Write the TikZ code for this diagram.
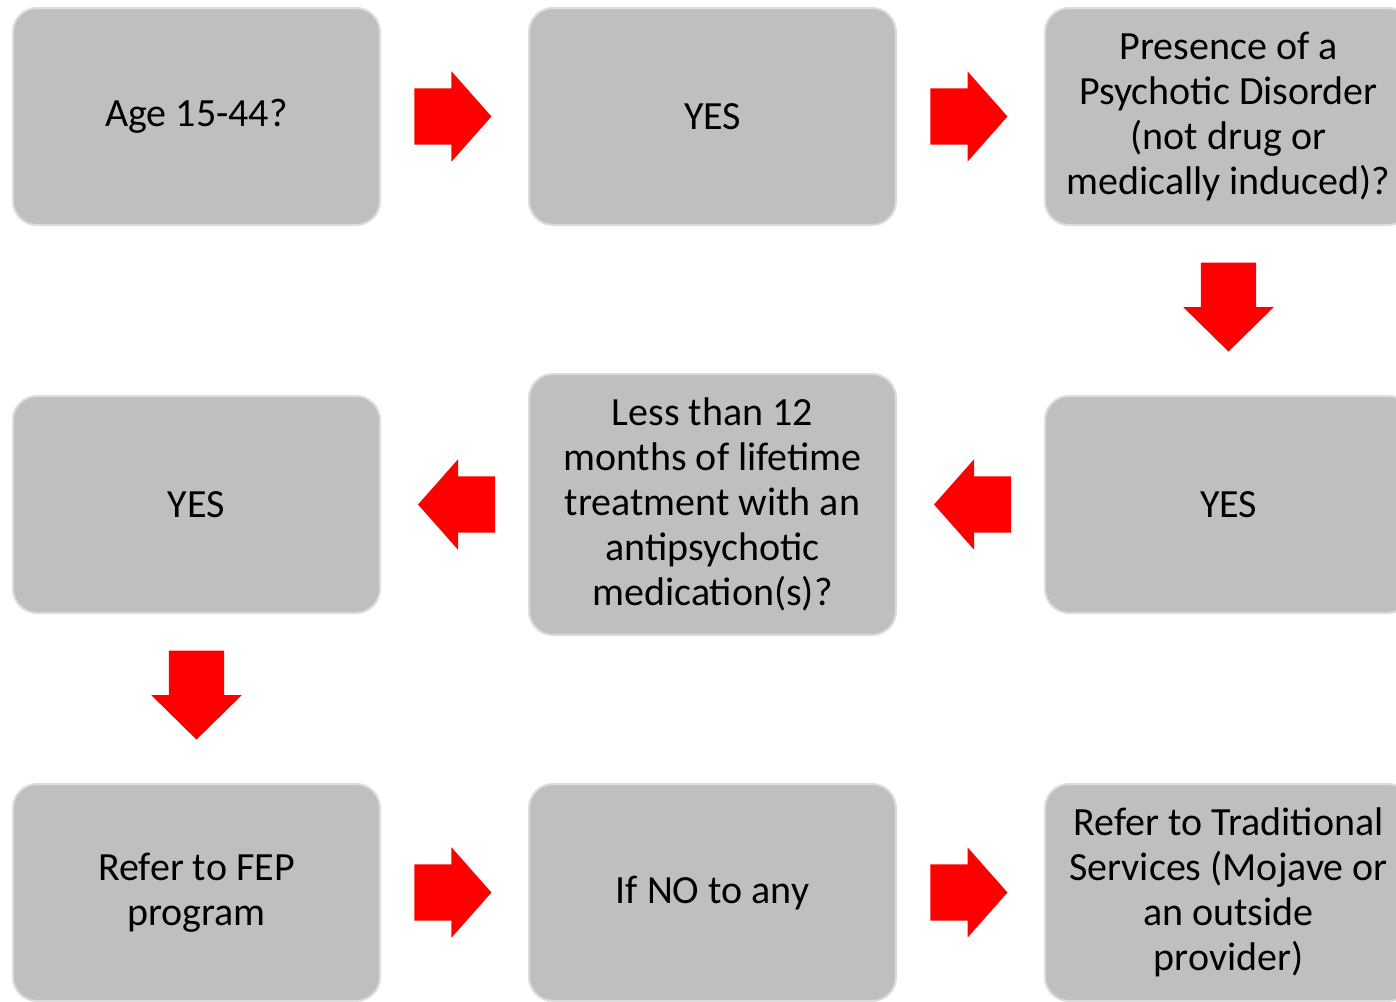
\documentclass[tikz,border=0pt]{standalone}
\usepackage{fontspec}
\setmainfont{Carlito}
\usepackage{tikz}
\usetikzlibrary{shapes.arrows, positioning}
\definecolor{boxgray}{HTML}{BFBFBF}
\definecolor{edgegray}{HTML}{DCDCDC}
\definecolor{arrowred}{HTML}{FF0000}
\tikzstyle{box} = [rectangle, rounded corners=24pt, minimum width=367pt, minimum height=217pt, align=center, fill=boxgray, draw=edgegray, line width=2pt, font=\fontsize{40}{45}\selectfont]
\tikzstyle{blockarrow} = [single arrow, fill=arrowred, draw=none, inner xsep=0pt, inner ysep=28pt, minimum height=77pt, single arrow head extend=17pt, single arrow tip angle=97]
\tikzstyle{rarrow} = [blockarrow, xshift=-14pt]
\tikzstyle{larrow} = [blockarrow, rotate=180, xshift=-14.5pt]
\tikzstyle{darrow} = [blockarrow, inner ysep=27.5pt, minimum height=89pt, single arrow head extend=17.5pt, single arrow tip angle=91, rotate=-90, xshift=-17pt]

\begin{document}
\begin{tikzpicture}[x=1pt, y=-1pt, node distance=388pt and 516pt, on grid]
\clip (0,0) rectangle (1396,1001);
\fill[white] (0,0) rectangle (1396,1001);
% Nodes
\node (age) [box] at (196.5,116.5) {Age 15-44?};
\node (yes1) [box, right=of age] {YES};
\node (psych) [box, right=of yes1] {Presence of a\\Psychotic Disorder\\(not drug or\\medically induced)?};
\node (yes2) [box, below=of psych] {YES};
\node (less) [box, left=of yes2, minimum height=261pt] {Less than 12\\months of lifetime\\treatment with an\\antipsychotic\\medication(s)?};
\node (yes3) [box, left=of less] {YES};
\node (fep) [box, below=of yes3] {Refer to FEP\\program};
\node (ifno) [box, right=of fep] {If NO to any};
\node (trad) [box, right=of ifno] {Refer to Traditional\\Services (Mojave or\\an outside\\provider)};

% Arrows
\path (age) -- (yes1) node[midway, rarrow] (a1) {};
\path (yes1) -- (psych) node[midway, rarrow] (a2) {};
\path (psych) -- (yes2) node[midway, darrow] (a3) {};
\path (yes2) -- (less) node[midway, larrow] (a4) {};
\path (less) -- (yes3) node[midway, larrow] (a5) {};
\path (yes3) -- (fep) node[midway, darrow] (a6) {};
\path (fep) -- (ifno) node[midway, rarrow] (a7) {};
\path (ifno) -- (trad) node[midway, rarrow] (a8) {};
\end{tikzpicture}
\end{document}
